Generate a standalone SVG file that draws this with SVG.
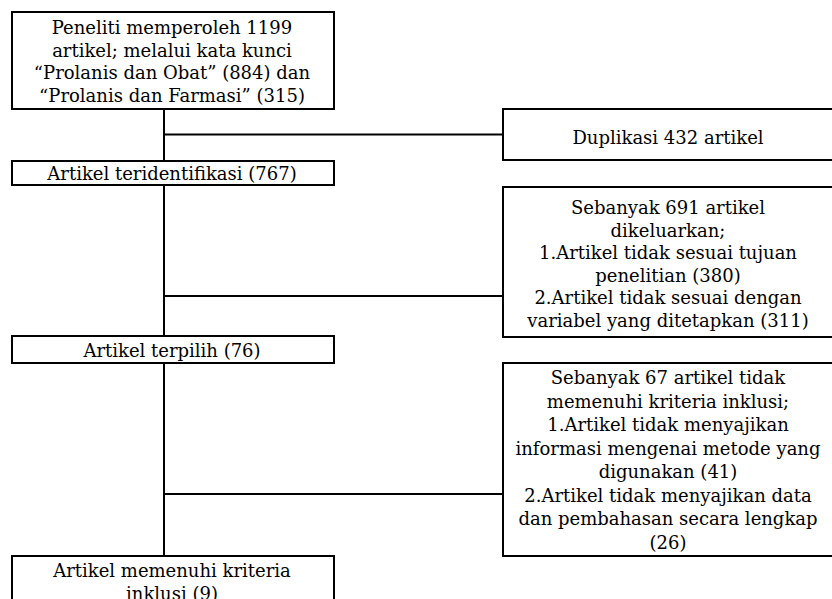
<svg xmlns="http://www.w3.org/2000/svg" width="832" height="599" viewBox="0 0 832 599">
<style>
.box{fill:#fff;stroke:#000;stroke-width:2}
.ln{stroke:#000;stroke-width:2;fill:none}
text{font-family:"DejaVu Serif","Liberation Serif",serif;font-size:18px;fill:#000;text-anchor:middle}
</style>
<rect width="832" height="599" fill="#fff"/>
<g id="connectors">
<line class="ln" x1="164" y1="109" x2="164" y2="556"/>
<line class="ln" x1="164" y1="134.5" x2="503" y2="134.5"/>
<line class="ln" x1="164" y1="296" x2="503" y2="296"/>
<line class="ln" x1="164" y1="494" x2="503" y2="494"/>
</g>
<g id="n1">
<rect class="box" x="12" y="12" width="322" height="97"/>
<text x="172" y="34">Peneliti memperoleh 1199</text>
<text x="172" y="56.5">artikel; melalui kata kunci</text>
<text x="172" y="79">“Prolanis dan Obat” (884) dan</text>
<text x="172" y="101.5">“Prolanis dan Farmasi” (315)</text>
</g>
<g id="n2">
<rect class="box" x="503" y="109" width="332" height="51"/>
<text x="668" y="144">Duplikasi 432 artikel</text>
</g>
<g id="n3">
<rect class="box" x="12" y="161" width="322" height="24"/>
<text x="172" y="179.5">Artikel teridentifikasi (767)</text>
</g>
<g id="n4">
<rect class="box" x="503" y="187" width="332" height="150"/>
<text x="668" y="214">Sebanyak 691 artikel</text>
<text x="668" y="236.5">dikeluarkan;</text>
<text x="668" y="259">1.Artikel tidak sesuai tujuan</text>
<text x="668" y="281.5">penelitian (380)</text>
<text x="668" y="304">2.Artikel tidak sesuai dengan</text>
<text x="668" y="326.5">variabel yang ditetapkan (311)</text>
</g>
<g id="n5">
<rect class="box" x="12" y="336" width="322" height="27"/>
<text x="172" y="357">Artikel terpilih (76)</text>
</g>
<g id="n6">
<rect class="box" x="503" y="363" width="332" height="193"/>
<text x="668" y="384">Sebanyak 67 artikel tidak</text>
<text x="668" y="407.5">memenuhi kriteria inklusi;</text>
<text x="668" y="431">1.Artikel tidak menyajikan</text>
<text x="668" y="454.5">informasi mengenai metode yang</text>
<text x="668" y="478">digunakan (41)</text>
<text x="668" y="501.5">2.Artikel tidak menyajikan data</text>
<text x="668" y="525">dan pembahasan secara lengkap</text>
<text x="668" y="548.5">(26)</text>
</g>
<g id="n7">
<rect class="box" x="12" y="556" width="322" height="70"/>
<text x="172" y="577">Artikel memenuhi kriteria</text>
<text x="172" y="600">inklusi (9)</text>
</g>
</svg>
